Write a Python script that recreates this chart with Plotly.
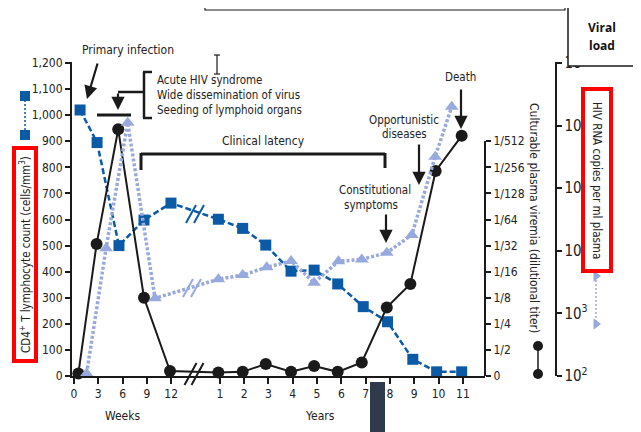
import plotly.graph_objects as go

W, H = 641, 432
OFF = 8  # page body margin offset

# ---------------- data ----------------
week_ticks = [0, 3, 6, 9, 12]
year_ticks = [1, 2, 3, 4, 5, 6, 7, 8, 9, 10, 11]

cd4_weeks = [0.75, 2.85, 5.55, 8.64, 11.97]
cd4_weeks_vals = [1020, 895, 500, 598, 663]
cd4_years = [0.94, 1.94, 2.89, 3.93, 4.88, 5.85, 6.9, 7.9, 8.94, 9.92, 10.95]
cd4_years_vals = [601, 566, 502, 402, 406, 353, 266, 208, 64, 16, 16]

titer_labels = ["0", "1/2", "1/4", "1/8", "1/16", "1/32", "1/64", "1/128", "1/256", "1/512"]
titer_weeks = [0.54, 2.79, 5.46, 8.64, 11.85]
titer_weeks_lvl = [0.1, 5.06, 9.46, 3.0, 0.19]
titer_years = [0.94, 1.94, 2.89, 3.93, 4.88, 5.85, 6.84, 7.87, 8.84, 9.88, 10.95]
titer_years_lvl = [0.13, 0.16, 0.46, 0.16, 0.38, 0.16, 0.52, 2.63, 3.53, 7.86, 9.21]

rna_weeks = [1.56, 3.96, 6.63, 10.0]
rna_weeks_vals = [110, 11000, 1.11e6, 1740]
rna_years = [0.94, 1.94, 2.93, 3.93, 4.88, 5.88, 6.84, 7.87, 8.9, 9.86, 10.54]
rna_years_vals = [3520, 4100, 5460, 6880, 3100, 6800, 7290, 9330, 17950, 319000, 2.0e6]

# ---------------- helpers ----------------
def wk(w):
    return [v / 3.0 for v in w]

def yr(y):
    return [v + 5.0 for v in y]

def P(x, y):
    return (x - OFF) / W, 1 - (y - OFF) / H

FONT = "Liberation Sans Narrow, DejaVu Sans Condensed, Roboto Condensed, Arial Narrow, sans-serif"
TXT = "#222222"
BLUE = "#0b5aa6"
LBLUE = "#98a9de"
BLACK = "#1a1a1a"

fig = go.Figure()

# RNA (triangles) on viral load axis
fig.add_trace(go.Scatter(
    x=wk(rna_weeks) + yr(rna_years), y=rna_weeks_vals + rna_years_vals,
    yaxis="y3", mode="lines+markers",
    line=dict(color=LBLUE, width=3.5, dash="3px,2px"),
    marker=dict(symbol="triangle-up", size=12, color=LBLUE),
    cliponaxis=False, showlegend=False))

# Culturable viremia (circles) on titer axis
fig.add_trace(go.Scatter(
    x=wk(titer_weeks) + yr(titer_years), y=titer_weeks_lvl + titer_years_lvl,
    yaxis="y2", mode="lines+markers",
    line=dict(color=BLACK, width=2),
    marker=dict(symbol="circle", size=12, color=BLACK),
    cliponaxis=False, showlegend=False))

# CD4 count (squares)
fig.add_trace(go.Scatter(
    x=wk(cd4_weeks) + yr(cd4_years), y=cd4_weeks_vals + cd4_years_vals,
    yaxis="y", mode="lines+markers",
    line=dict(color=BLUE, width=2.5, dash="6px,3px"),
    marker=dict(symbol="square", size=11, color=BLUE),
    cliponaxis=False, showlegend=False))

# legend swatches on an auxiliary full-page axis (reference pixel space)
fig.add_trace(go.Scatter(x=[25, 25], y=[96, 135], xaxis="x2", yaxis="y4", mode="lines+markers",
                         line=dict(color=BLUE, width=1.5, dash="2px,2px"),
                         marker=dict(symbol="square", size=10, color=BLUE),
                         cliponaxis=False, showlegend=False))
fig.add_trace(go.Scatter(x=[538, 538], y=[346, 374], xaxis="x2", yaxis="y4", mode="lines+markers",
                         line=dict(color=BLACK, width=1.5),
                         marker=dict(symbol="circle", size=10, color=BLACK),
                         cliponaxis=False, showlegend=False))
fig.add_trace(go.Scatter(x=[596, 596], y=[276, 324], xaxis="x2", yaxis="y4", mode="lines+markers",
                         line=dict(color=LBLUE, width=1.5, dash="2px,2px"),
                         marker=dict(symbol="triangle-right", size=10, color=LBLUE),
                         cliponaxis=False, showlegend=False))

# ---------------- shapes ----------------
shapes = []

def line(x0, y0, x1, y1, color=BLACK, width=2.5):
    a, b = P(x0, y0)
    c, d = P(x1, y1)
    shapes.append(dict(type="line", xref="paper", yref="paper", x0=a, y0=b, x1=c, y1=d,
                       line=dict(color=color, width=width)))

def rect(x0, y0, x1, y1, color, width, fill=None):
    a, b = P(x0, y0)
    c, d = P(x1, y1)
    shapes.append(dict(type="rect", xref="paper", yref="paper", x0=a, y0=b, x1=c, y1=d,
                       line=dict(color=color, width=width),
                       fillcolor=fill if fill else "rgba(0,0,0,0)"))

def slashes(cx, cy, color, hx=6, hy=11, sep=7, width=2):
    for dx in (-sep / 2, sep / 2):
        line(cx + dx - hx, cy + hy, cx + dx + hx, cy - hy, color, width)

# titer axis line (only up to 1/512)
line(485, 376, 485, 141, BLACK, 2)
# breaks
slashes(194, 374, BLACK, hx=6, hy=11, sep=7, width=2)
slashes(195, 214, BLUE, hx=5, hy=9, sep=8, width=2)
slashes(192, 288, LBLUE, hx=5, hy=9, sep=8, width=2)
# acute syndrome bracket and bar
line(97, 115, 131, 115, BLACK, 3)
line(144, 72, 144, 118, BLACK, 2.5)
line(143, 72, 152, 72, BLACK, 2.5)
line(143, 118, 152, 118, BLACK, 2.5)
line(118, 92, 144, 92, BLACK, 2.5)
# clinical latency bracket
line(141, 154, 385, 154, BLACK, 3)
line(141, 153, 141, 170, BLACK, 3)
line(385, 153, 385, 168, BLACK, 3)
# I-beam cursor
line(217, 55, 217, 74, BLACK, 1.2)
line(214, 55, 220, 55, BLACK, 1.2)
line(214, 74, 220, 74, BLACK, 1.2)
# top outline box and viral load box
rect(205, -3, 565, 10, BLACK, 1.2)
rect(568, 4, 637, 66, BLACK, 1.5, "white")
# red boxes
rect(14, 148, 36, 361, "#ff0000", 4, "white")
rect(583, 89, 611, 271, "#ff0000", 4, "white")
# dark block at bottom
rect(370, 382, 385, 445, "#2f3a4c", 0, "#2f3a4c")

# ---------------- annotations ----------------
ann = []

def text(x, y, s, size=12, anchor="center", angle=0, color=TXT, bold=False, family=FONT):
    a, b = P(x, y)
    if bold:
        s = "<b>" + s + "</b>"
    ann.append(dict(x=a, y=b, xref="paper", yref="paper", text=s, showarrow=False,
                    xanchor=anchor, yanchor="middle", textangle=angle,
                    font=dict(family=family, size=size, color=color)))

def arrow(xh, yh, xt, yt):
    a, b = P(xh, yh)
    ann.append(dict(x=a, y=b, xref="paper", yref="paper", text="", showarrow=True,
                    ax=xt - xh, ay=yt - yh, arrowhead=2, arrowsize=1.2, arrowwidth=2.2,
                    arrowcolor=BLACK))

text(128, 50, "Primary infection", 12)
arrow(87, 99, 98, 62)
arrow(118, 110, 118, 92)
text(155, 80, "Acute HIV syndrome", 11.5, "left")
text(155, 95, "Wide dissemination of virus", 11.5, "left")
text(155, 110, "Seeding of lymphoid organs", 11.5, "left")
text(263, 141, "Clinical latency", 12)
text(375, 190, "Constitutional", 11.5)
text(371, 205, "symptoms", 11.5)
arrow(386, 243, 386, 213)
text(404, 120, "Opportunistic", 11.5)
text(404, 134, "diseases", 11.5)
arrow(419, 185, 419, 143)
text(460, 77, "Death", 11.5)
arrow(461, 129, 461, 88)
text(123, 416, "Weeks", 12)
text(320, 416, "Years", 12)
text(25, 255, "CD4<sup>+</sup> T lymphocyte count (cells/mm<sup>3</sup>)", 11.5, angle=-90)
text(534, 218, "Culturable plasma viremia (dilutional titer)", 12, angle=90)
text(597, 180, "HIV RNA copies per ml plasma", 11.5, angle=90)
text(602, 28, "Viral", 12, bold=True, color="#111111", family="Open Sans, Liberation Sans, sans-serif")
text(602, 45, "load", 12, bold=True, color="#111111", family="Open Sans, Liberation Sans, sans-serif")

# ---------------- layout ----------------
tick_font = dict(family=FONT, size=12, color=TXT)
xd0, xd1 = (72 - OFF) / W, (485 - OFF) / W
yd0, yd1 = 1 - (376 - OFF) / H, 1 - (62 - OFF) / H

fig.update_layout(
    width=W, height=H, autosize=False,
    margin=dict(l=0, r=0, t=0, b=0, autoexpand=False),
    paper_bgcolor="white", plot_bgcolor="rgba(0,0,0,0)",
    showlegend=False,
    shapes=shapes, annotations=ann,
    xaxis=dict(domain=[xd0, xd1], range=[-0.082, 16.91], anchor="y", automargin=False,
               tickmode="array",
               tickvals=wk(week_ticks) + yr(year_ticks),
               ticktext=[str(v) for v in week_ticks] + [str(v) for v in year_ticks],
               ticks="outside", ticklen=6, tickwidth=1.5, tickcolor=BLACK,
               showline=True, linecolor=BLACK, linewidth=2,
               showgrid=False, zeroline=False, tickfont=tick_font),
    yaxis=dict(domain=[yd0, yd1], range=[0, 1204], anchor="x", automargin=False,
               tickmode="array", tickvals=list(range(0, 1201, 100)), tickformat=",",
               ticks="outside", ticklen=5, tickwidth=1.5, tickcolor=BLACK,
               showline=True, linecolor=BLACK, linewidth=2,
               showgrid=False, zeroline=False, tickfont=tick_font),
    yaxis2=dict(overlaying="y", side="right", anchor="x", range=[0, 12.04], automargin=False,
                tickmode="array", tickvals=list(range(10)), ticktext=titer_labels,
                ticks="outside", ticklen=5, tickwidth=1.5, tickcolor=BLACK,
                showline=False, showgrid=False, zeroline=False, tickfont=tick_font),
    yaxis3=dict(overlaying="y", side="right", anchor="free", position=(556 - OFF) / W,
                automargin=False,
                type="log", range=[2, 7.017], tickmode="linear", tick0=0, dtick=1,
                exponentformat="power",
                ticks="outside", ticklen=5, tickwidth=1.5, tickcolor=BLACK,
                showline=True, linecolor=BLACK, linewidth=2,
                showgrid=False, zeroline=False, tickfont=tick_font),
    xaxis2=dict(domain=[0, 1], range=[OFF, W + OFF], anchor="y4", visible=False, fixedrange=True,
                automargin=False),
    yaxis4=dict(domain=[0, 1], range=[H + OFF, OFF], anchor="x2", visible=False, fixedrange=True,
                automargin=False),
)

fig.write_html("out.html")
